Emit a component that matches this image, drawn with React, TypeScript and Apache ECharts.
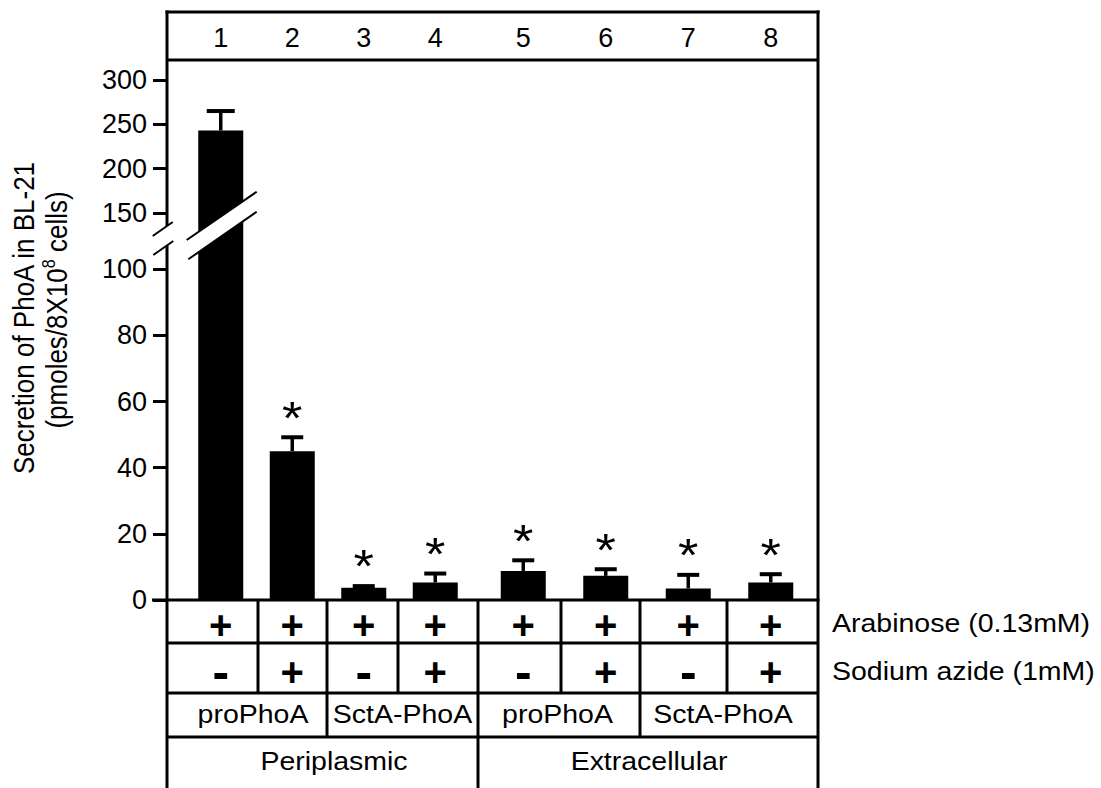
import React, { useEffect, useRef } from 'react';
import * as echarts from 'echarts';

// ---------- data ----------
const lanes = ['1', '2', '3', '4', '5', '6', '7', '8'];
const secretion = [243, 45, 3.7, 5.3, 8.8, 7.3, 3.5, 5.3];
const errorSD = [22, 4.2, 0.5, 2.7, 3.2, 2.0, 4.1, 2.5];
const significant = [0, 1, 1, 1, 1, 1, 1, 1];
const arabinose = ['+', '+', '+', '+', '+', '+', '+', '+'];
const sodiumAzide = ['-', '+', '-', '+', '-', '+', '-', '+'];
const constructs = ['proPhoA', 'SctA-PhoA', 'proPhoA', 'SctA-PhoA'];
const fractions = ['Periplasmic', 'Extracellular'];
const rowLabels = ['Arabinose (0.13mM)', 'Sodium azide (1mM)'];
const lowTicks = [0, 20, 40, 60, 80, 100];
const highTicks = [150, 200, 250, 300];

const FONT = '"Liberation Sans", Arial, Helvetica, sans-serif';
const STRETCH = 1.14;

const LOW_MAX = 117;
const HIGH_MIN = 150;
const HIGH_MAX = 300;

function errSeries(gridIdx: number, offset: number, lo: number, hi: number, capW: number) {
  return {
    type: 'custom',
    xAxisIndex: gridIdx,
    yAxisIndex: gridIdx,
    z: 5,
    data: secretion.slice(offset, offset + 4).map((v, i) => [i, v, v + errorSD[offset + i], significant[offset + i]]),
    renderItem: (params: any, api: any) => {
      const i = api.value(0);
      const v = api.value(1);
      const u = api.value(2);
      const s = api.value(3);
      const children: any[] = [];
      if (u >= lo && u <= hi) {
        const top = api.coord([i, u]);
        const base = api.coord([i, Math.max(v, lo)]);
        children.push({
          type: 'line',
          shape: { x1: top[0], y1: base[1], x2: top[0], y2: top[1] },
          style: { stroke: '#000', lineWidth: 3.5 },
        });
        children.push({
          type: 'line',
          shape: { x1: top[0] - capW / 2, y1: top[1], x2: top[0] + capW / 2, y2: top[1] },
          style: { stroke: '#000', lineWidth: 4 },
        });
        if (s) {
          children.push({
            type: 'text',
            x: top[0],
            y: top[1] - 20,
            scaleX: STRETCH,
            style: {
              text: '*',
              fontSize: 46,
              fontFamily: FONT,
              fill: '#000',
              align: 'center',
              verticalAlign: 'middle',
              textAlign: 'center',
              textVerticalAlign: 'middle',
            },
          });
        }
      }
      return { type: 'group', children };
    },
  };
}

function txt(text: string, x: number, y: number, size: number, align = 'center', extra: any = {}) {
  return {
    type: 'text',
    x,
    y,
    scaleX: STRETCH,
    z: 50,
    style: {
      text,
      fontSize: size,
      fontFamily: FONT,
      fill: '#000',
      align,
      verticalAlign: 'middle',
      textAlign: align,
      textVerticalAlign: 'middle',
    },
    ...extra,
  };
}

function ln(x1: number, y1: number, x2: number, y2: number, w = 3, z = 40) {
  return { type: 'line', z, shape: { x1, y1, x2, y2 }, style: { stroke: '#000', lineWidth: w } };
}

export default function App() {
  const ref = useRef<HTMLDivElement>(null);

  useEffect(() => {
    if (!ref.current) return;
    const chart = echarts.init(ref.current, undefined, { renderer: 'svg' });

    const headerAxis = (gi: number, data: string[]) => ({
      type: 'category',
      gridIndex: gi,
      position: 'top',
      data,
      axisLine: { show: false },
      axisTick: { show: false },
      splitLine: { show: false },
      axisLabel: { show: true, interval: 0, margin: 29, fontSize: 27, color: '#000', fontFamily: FONT },
    });
    const sign = (c: string) => (c === '+' ? `{p|${c}}` : `{m|${c}}`);
    const signAxis = (gi: number, data: string[], offset: number) => ({
      type: 'category',
      gridIndex: gi,
      position: 'bottom',
      data,
      axisLine: { show: false },
      axisTick: { show: false },
      splitLine: { show: false },
      axisLabel: {
        show: true,
        interval: 0,
        margin: 1,
        formatter: (_v: string, idx: number) =>
          `${sign(arabinose[offset + idx])}\n${sign(sodiumAzide[offset + idx])}`,
        rich: {
          p: { fontSize: 40, fontWeight: 'bold', lineHeight: 47, fontFamily: FONT, color: '#000' },
          m: { fontSize: 50, fontWeight: 'bold', lineHeight: 47, fontFamily: FONT, color: '#000' },
        },
      },
    });
    const visibleY = (gi: number, min: number, max: number, interval: number, ticks: number[]) => ({
      type: 'value',
      gridIndex: gi,
      min,
      max,
      interval,
      offset: 18,
      axisLine: { show: false },
      splitLine: { show: false },
      axisTick: { show: true, length: 14, lineStyle: { color: '#000', width: 3 }, customValues: ticks },
      axisLabel: { show: true, margin: 20, fontSize: 27, color: '#000', fontFamily: FONT, customValues: ticks },
    });
    const hiddenY = (gi: number, min: number, max: number) => ({
      type: 'value',
      gridIndex: gi,
      min,
      max,
      show: false,
      splitLine: { show: false },
    });

    const leftVals = secretion.slice(0, 4);
    const rightVals = secretion.slice(4);
    const barStyle = { color: '#000' };

    const graphics: any[] = [
      // frame
      ln(167, 10.5, 167, 788),
      ln(818, 10.5, 818, 788),
      ln(165.5, 12, 819.5, 12),
      ln(167, 60, 818, 60),
      // table
      ln(152, 600, 819.5, 600),
      ln(167, 643, 818, 643),
      ln(167, 693, 818, 693),
      ln(167, 737, 818, 737),
      ln(258, 600, 258, 693),
      ln(398, 600, 398, 693),
      ln(561, 600, 561, 693),
      ln(727, 600, 727, 693),
      ln(327, 600, 327, 737),
      ln(640, 600, 640, 737),
      ln(478, 600, 478, 788),
      // axis break (white band + edges)
      { type: 'polygon', z: 90, shape: { points: [[151, 237], [175, 220.5], [175, 240], [151, 256.5]] }, style: { fill: '#fff' } },
      ln(152.7, 236, 172.7, 222, 2, 95),
      ln(153.3, 255, 173.3, 241, 2, 95),
      // bar break
      { type: 'polygon', z: 90, shape: { points: [[187, 240], [257, 191.7], [257, 211.7], [188, 259.3]] }, style: { fill: '#fff' } },
      ln(186.7, 240, 256.7, 191.7, 2, 95),
      ln(188.3, 259.3, 256.7, 211.7, 2, 95),
      // row labels
      txt(constructs[0], 253, 715, 25),
      txt(constructs[1], 402.5, 715, 25),
      txt(constructs[2], 557.5, 715, 25),
      txt(constructs[3], 723, 715, 25),
      txt(fractions[0], 334, 762, 25),
      txt(fractions[1], 649, 762, 25),
      txt(rowLabels[0], 832, 624, 25, 'left'),
      txt(rowLabels[1], 832, 672, 25, 'left'),
      // y axis title
      {
        type: 'text',
        x: 24,
        y: 318,
        rotation: Math.PI / 2,
        scaleY: 1.12,
        z: 50,
        style: {
          text: 'Secretion of PhoA in BL-21',
          fontSize: 26,
          fontFamily: FONT,
          fill: '#000',
          align: 'center',
          verticalAlign: 'middle',
          textAlign: 'center',
          textVerticalAlign: 'middle',
        },
      },
      {
        type: 'text',
        x: 57,
        y: 310,
        rotation: Math.PI / 2,
        scaleY: 1.12,
        z: 50,
        style: {
          text: '{a|(pmoles/8X10}{s|8}{a| cells)}',
          fill: '#000',
          align: 'center',
          verticalAlign: 'middle',
          textAlign: 'center',
          textVerticalAlign: 'middle',
          rich: {
            a: { fontSize: 26, fontFamily: FONT, lineHeight: 30, fill: '#000' },
            s: { fontSize: 16, fontFamily: FONT, lineHeight: 18, verticalAlign: 'top', fill: '#000' },
          },
        },
      },
    ];

    chart.setOption({
      animation: false,
      backgroundColor: '#fff',
      textStyle: { fontFamily: FONT },
      grid: [
        { left: 185, top: 80, width: 286, height: 133 },
        { left: 185, top: 213, width: 286, height: 387 },
        { left: 482, top: 80, width: 330, height: 133 },
        { left: 482, top: 213, width: 330, height: 387 },
      ],
      xAxis: [
        headerAxis(0, lanes.slice(0, 4)),
        signAxis(1, lanes.slice(0, 4), 0),
        headerAxis(2, lanes.slice(4)),
        signAxis(3, lanes.slice(4), 4),
      ],
      yAxis: [
        visibleY(0, HIGH_MIN, HIGH_MAX, 50, highTicks),
        visibleY(1, 0, LOW_MAX, 20, lowTicks),
        hiddenY(2, HIGH_MIN, HIGH_MAX),
        hiddenY(3, 0, LOW_MAX),
      ],
      series: [
        { type: 'bar', xAxisIndex: 0, yAxisIndex: 0, barWidth: 45, itemStyle: barStyle, data: leftVals.map((v) => (v > HIGH_MIN ? v : '-')) },
        { type: 'bar', xAxisIndex: 1, yAxisIndex: 1, barWidth: 45, itemStyle: barStyle, data: leftVals },
        { type: 'bar', xAxisIndex: 2, yAxisIndex: 2, barWidth: 45, itemStyle: barStyle, data: rightVals.map((v) => (v > HIGH_MIN ? v : '-')) },
        { type: 'bar', xAxisIndex: 3, yAxisIndex: 3, barWidth: 45, itemStyle: barStyle, data: rightVals },
        errSeries(0, 0, HIGH_MIN, HIGH_MAX, 28),
        errSeries(1, 0, 0, LOW_MAX, 22),
        errSeries(2, 4, HIGH_MIN, HIGH_MAX, 22),
        errSeries(3, 4, 0, LOW_MAX, 22),
      ],
      graphic: graphics,
    });

    return () => chart.dispose();
  }, []);

  return (
    <div
      ref={ref}
      style={{ position: 'absolute', left: 0, top: 0, width: 1101, height: 788, background: '#fff' }}
    />
  );
}
